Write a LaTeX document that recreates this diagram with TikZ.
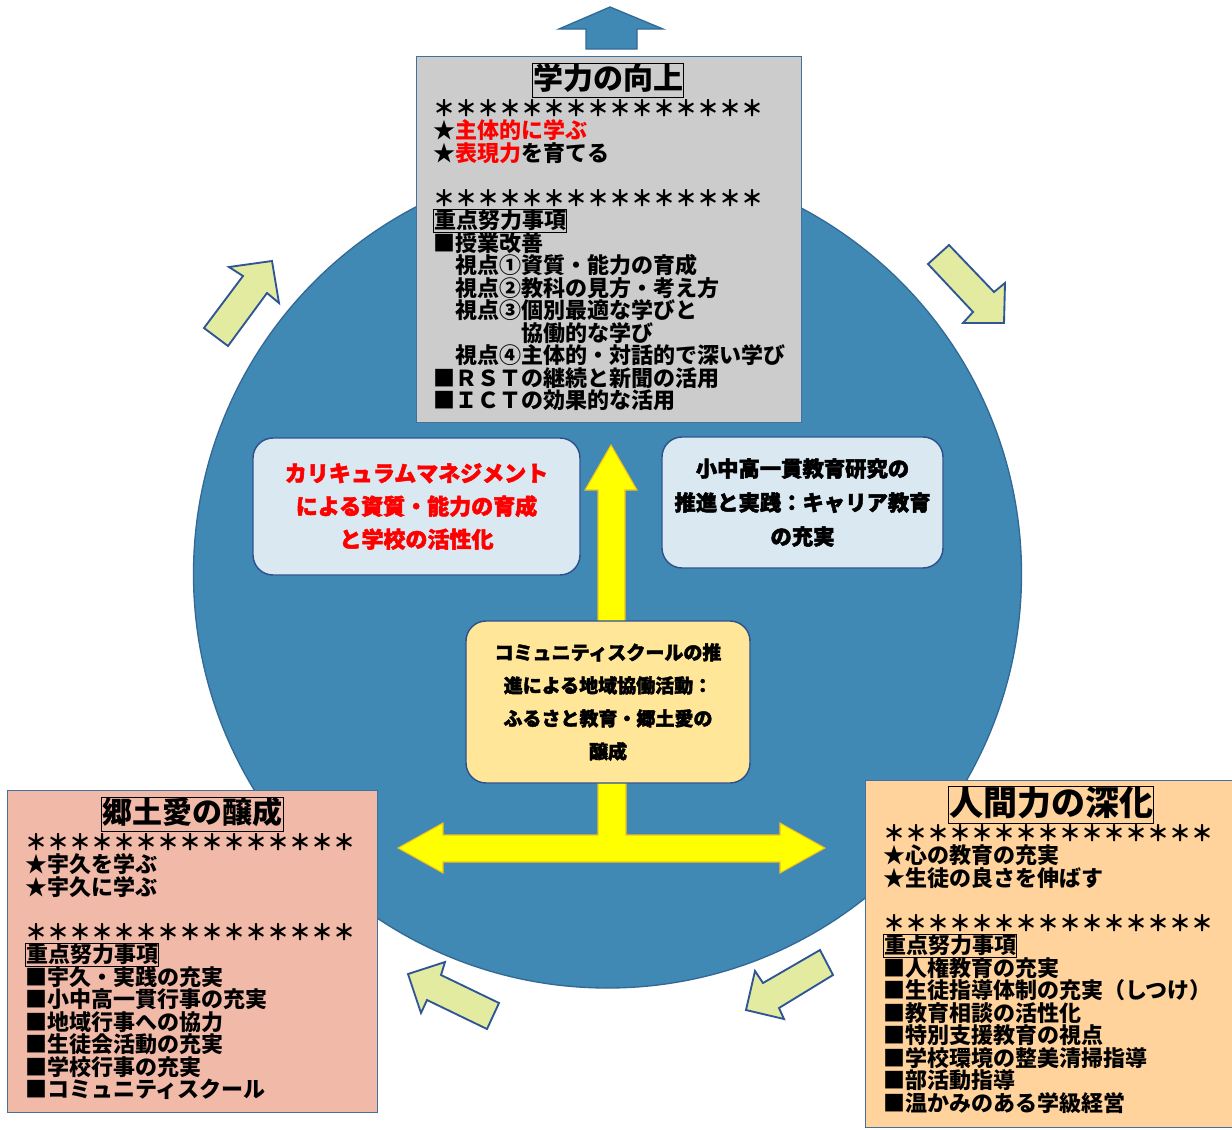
\documentclass[tikz,border=0pt]{standalone}
\usepackage{fontspec}
\newfontfamily\jp[BoldFeatures={FakeBold=2.2}]{Noto Sans CJK JP}
\newfontfamily\jpbd{Noto Sans CJK JP}
\definecolor{circ}{RGB}{65,137,181}
\definecolor{circline}{RGB}{50,105,150}
\definecolor{panelline}{RGB}{65,113,156}
\definecolor{grayfill}{RGB}{204,204,204}
\definecolor{pinkfill}{RGB}{241,185,167}
\definecolor{orangefill}{RGB}{255,211,155}
\definecolor{lightfill}{RGB}{218,232,241}
\definecolor{rline}{RGB}{47,82,143}
\definecolor{creamfill}{RGB}{255,230,153}
\definecolor{yel}{RGB}{255,255,0}
\definecolor{yelline}{RGB}{240,190,30}
\definecolor{grn}{RGB}{226,235,160}
\definecolor{grnline}{RGB}{47,85,151}
\definecolor{jred}{RGB}{255,0,0}
\newcommand\lin[1]{\hbox{#1}}
\newcommand\lns[1]{\vtop{\baselineskip=16.875pt\lineskiplimit=-30pt\lineskip=0pt #1}}
\newcommand\kbox[1]{\smash{\setlength\fboxsep{0pt}\setlength\fboxrule{0.7pt}\fbox{\rule[-0.15em]{0pt}{1em}#1}}}
\tikzset{
  panel/.style={draw=panelline, line width=1.1pt, anchor=north west, inner sep=0pt},
  ttl/.style={draw=black, line width=0.75pt, inner xsep=0.6pt, inner ysep=1pt},
  body/.style={anchor=base west, inner sep=0pt, font=\jpbd\bfseries\fontsize{16.5}{16.875}\selectfont},
  rbox/.style={draw=rline, line width=1.1pt, rounded corners=15pt, align=center},
  bigarrow/.style={fill=yel, draw=yelline, line width=0.8pt, line join=miter},
  grnarrow/.style={fill=grn, draw=grnline, line width=1.4pt, line join=miter},
}
\begin{document}
\begin{tikzpicture}[x=0.75pt,y=-0.75pt]
\useasboundingbox (0,0) rectangle (1232,1129);
\fill[white] (0,0) rectangle (1232,1129);

% big circle
\node[circle, fill=circ, draw=circline, line width=1pt, minimum size=621pt, inner sep=0pt] (bigc) at (607.5,574) {};

% top blue arrow
\draw[fill=circ, draw=circline, line width=1pt] (586,49) -- (586,29) -- (559,29) -- (610,7) -- (663,29) -- (637,29) -- (637,49) -- cycle;

% green arrows
\draw[grnarrow] (204,328) -- (243,276) -- (229,267) -- (272,261) -- (279,303) -- (267,293) -- (228,346) -- cycle;
\draw[grnarrow] (928,264) -- (949,245) -- (994,292) -- (1005,283) -- (1004,323) -- (963,323) -- (973,312) -- cycle;
\draw[grnarrow] (408,974) -- (445,962) -- (441,975) -- (499,1003) -- (487,1029) -- (427,1000) -- (421,1013) -- cycle;
\draw[grnarrow] (746,1010) -- (755,971) -- (763,983) -- (820,950) -- (833,975) -- (779,1008) -- (784,1019) -- cycle;

% yellow arrows
\draw[bigarrow] (598,640) -- (598,490) -- (585,490) -- (611,445) -- (637,490) -- (625,490) -- (625,640) -- cycle;
\draw[bigarrow] (598,770) -- (598,835) -- (443,835) -- (443,823) -- (398,848) -- (443,873) -- (443,862)
  -- (780,862) -- (780,873) -- (825,848) -- (780,823) -- (780,835) -- (626,835) -- (626,770) -- cycle;

% rounded boxes
\node[rbox, fill=lightfill, minimum width=245.25pt, minimum height=102.75pt,
  font=\jp\bfseries\fontsize{16.5}{24.75}\selectfont, text=jred] (curr) at (416.5,506.5)
  {カリキュラムマネジメント\\による資質・能力の育成\\と学校の活性化};
\node[rbox, fill=lightfill, minimum width=210.75pt, minimum height=98.25pt,
  font=\jp\bfseries\fontsize{16}{25.5}\selectfont] (ikkan) at (802.5,502.5)
  {小中高一貫教育研究の\\推進と実践：キャリア教育\\の充実};
\node[rbox, fill=creamfill, minimum width=213pt, minimum height=121.5pt,
  font=\jp\bfseries\fontsize{14.25}{24.75}\selectfont] (cs) at (608,702)
  {コミュニティスクールの推\\進による地域協働活動：\\ふるさと教育・郷土愛の\\醸成};

% gray panel
\node[panel, fill=grayfill, minimum width=288.75pt, minimum height=274.5pt] (gbox) at (416,56) {};
\node[ttl, text height=18.6pt, text depth=4.4pt, font=\jpbd\bfseries\fontsize{22.5}{27}\selectfont] (gtitle) at (608,80.5) {学力の向上};
\node[body] (gtext) at (433,116.4) {\lns{%
\lin{＊＊＊＊＊＊＊＊＊＊＊＊＊＊＊}
\lin{★\textcolor{jred}{主体的に学ぶ}}
\lin{★\textcolor{jred}{表現力}を育てる}
\lin{}
\lin{＊＊＊＊＊＊＊＊＊＊＊＊＊＊＊}
\lin{\kbox{重点努力事項}}
\lin{■授業改善}
\lin{　視点①資質・能力の育成}
\lin{　視点②教科の見方・考え方}
\lin{　視点③個別最適な学びと}
\lin{　　　　協働的な学び}
\lin{　視点④主体的・対話的で深い学び}
\lin{■ＲＳＴの継続と新聞の活用}
\lin{■ＩＣＴの効果的な活用}}};

% pink panel
\node[panel, fill=pinkfill, minimum width=277.5pt, minimum height=241.5pt] (pbox) at (7,790) {};
\node[ttl, text height=18.6pt, text depth=4.4pt, font=\jpbd\bfseries\fontsize{22.5}{27}\selectfont] (ptitle) at (192.5,814.5) {郷土愛の醸成};
\node[body] (ptext) at (25,850.4) {\lns{%
\lin{＊＊＊＊＊＊＊＊＊＊＊＊＊＊＊}
\lin{★宇久を学ぶ}
\lin{★宇久に学ぶ}
\lin{}
\lin{＊＊＊＊＊＊＊＊＊＊＊＊＊＊＊}
\lin{\kbox{重点努力事項}}
\lin{■宇久・実践の充実}
\lin{■小中高一貫行事の充実}
\lin{■地域行事への協力}
\lin{■生徒会活動の充実}
\lin{■学校行事の充実}
\lin{■コミュニティスクール}}};

% orange panel
\node[panel, fill=orangefill, minimum width=285pt, minimum height=260.25pt] (obox) at (865,780) {};
\node[ttl, text height=20.8pt, text depth=4.8pt, font=\jpbd\bfseries\fontsize{25.5}{30}\selectfont] (otitle) at (1051,805) {人間力の深化};
\node[body] (otext) at (883,841.4) {\lns{%
\lin{＊＊＊＊＊＊＊＊＊＊＊＊＊＊＊}
\lin{★心の教育の充実}
\lin{★生徒の良さを伸ばす}
\lin{}
\lin{＊＊＊＊＊＊＊＊＊＊＊＊＊＊＊}
\lin{\kbox{重点努力事項}}
\lin{■人権教育の充実}
\lin{■生徒指導体制の充実（しつけ）}
\lin{■教育相談の活性化}
\lin{■特別支援教育の視点}
\lin{■学校環境の整美清掃指導}
\lin{■部活動指導}
\lin{■温かみのある学級経営}}};
\end{tikzpicture}
\end{document}
